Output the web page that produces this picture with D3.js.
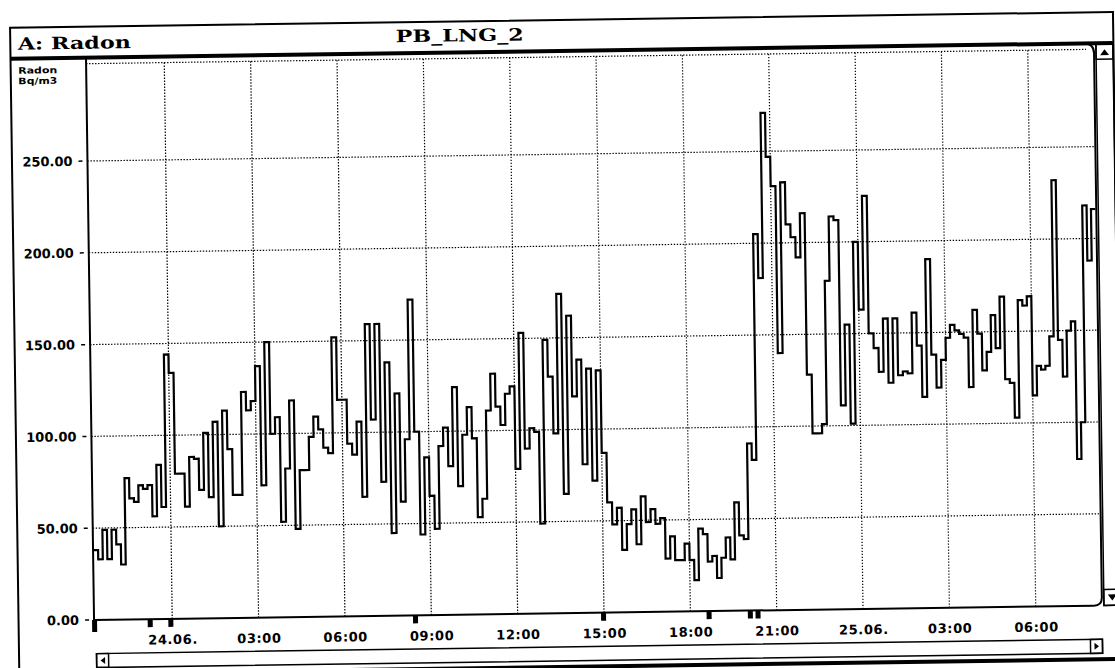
<!DOCTYPE html>
<html><head><meta charset="utf-8">
<script src="https://cdn.jsdelivr.net/npm/d3@7"></script>
<style>html,body{margin:0;padding:0;background:#fff;}svg{display:block;}</style>
</head><body>
<svg id="chart" width="1115" height="668"></svg>
<script>
// ---------------- data ----------------
const panelTitle = "A: Radon";
const stationName = "PB_LNG_2";
const unitLines = ["Radon", "Bq/m3"];
const yTickValues = [0, 50, 100, 150, 200, 250];
const xTickTimes = ["1999-06-24T00:00","1999-06-24T03:00","1999-06-24T06:00","1999-06-24T09:00","1999-06-24T12:00","1999-06-24T15:00","1999-06-24T18:00","1999-06-24T21:00","1999-06-25T00:00","1999-06-25T03:00","1999-06-25T06:00"];
const xTickLabels = ["24.06.","03:00","06:00","09:00","12:00","15:00","18:00","21:00","25.06.","03:00","06:00"];
const axisStart = "1999-06-23T21:17";
const axisEnd = "1999-06-25T08:18";
// measurement blocks between these instants (values are step readings, Bq/m3)
const blockEdges = ["1999-06-23T21:18","1999-06-24T00:00","1999-06-24T03:00","1999-06-24T06:00","1999-06-24T09:00","1999-06-24T12:00","1999-06-24T15:00","1999-06-24T18:00","1999-06-24T21:00","1999-06-25T00:00","1999-06-25T03:00","1999-06-25T06:00","1999-06-25T08:16"];
const block0 = [38,33,49,33,49,41,30,77,66,64,73,71,73,56,84,61,144];
const block1 = [134,79,79,61,88,87,70,101,66,107,50,113,92,67,67,123,113,118];
const block2 = [137,72,150,100,109,52,81,118,48,80,80,98,109,102,92,89,152,118];
const block3 = [118,94,88,106,65,159,107,159,73,138,45,121,62,96,172,100,44,86];
const block4 = [65,47,92,102,81,124,70,98,113,96,53,63,111,131,113,103,120,124];
const block5 = [79,153,90,101,99,49,149,129,98,174,65,162,118,138,81,133,72,132];
const block6 = [87,60,48,57,34,48,56,37,63,49,56,48,51,29,41,28,28,37];
const block7 = [28,17,45,42,27,30,18,29,40,28,59,41,39,91,82,205,181,271,247];
const block8 = [231,140,233,210,203,192,216,128,96,96,101,179,214,212,111,155,101,200];
const block9 = [163,225,150,142,129,158,123,158,127,129,128,161,143,115,190,138,120,135];
const block10 = [147,154,151,149,147,120,162,149,129,139,159,141,169,124,122,103,167,164,169];
const block11 = [115,131,129,131,147,232,145,125,150,155,80,100,218,188,216];
const eventMarkers = ["1999-06-23T21:18","1999-06-23T23:14","1999-06-23T23:57","1999-06-24T08:27","1999-06-24T14:59","1999-06-24T18:39","1999-06-24T20:05","1999-06-24T20:21"];

// ---------------- layout ----------------
const W = 1115, H = 668;
const L = 90, R = 1098, TOP = 57, BASE = 613.3;
const svg = d3.select("#chart");
svg.append("rect").attr("width", W).attr("height", H).attr("fill", "#fff");
const g = svg.append("g").attr("transform", "rotate(-0.82,557,334)");

const parse = s => new Date(s);
const x = d3.scaleTime().domain([parse(axisStart), parse(axisEnd)]).range([L, R]);
const y = d3.scaleLinear().domain([0, 250]).range([BASE, 154.3]);

// series
const blocks = [block0,block1,block2,block3,block4,block5,block6,block7,block8,block9,block10,block11];
const series = [];
blocks.forEach((vals, k) => {
  const t0 = +parse(blockEdges[k]), t1 = +parse(blockEdges[k+1]);
  const dt = (t1 - t0) / vals.length;
  vals.forEach((v, i) => series.push({t: new Date(t0 + i*dt), v}));
});
series.push({t: parse(blockEdges[blockEdges.length-1]), v: block11[block11.length-1]});

// outer frame
g.append("rect").attr("x", 14.5).attr("y", 20).attr("width", 1103).attr("height", 647)
  .attr("fill", "none").attr("stroke", "#000").attr("stroke-width", 2);
g.append("line").attr("x1", 14.5).attr("x2", 1117).attr("y1", 667).attr("y2", 667)
  .attr("stroke", "#000").attr("stroke-width", 4);
g.append("line").attr("x1", 14.5).attr("x2", 1117).attr("y1", 51).attr("y2", 51)
  .attr("stroke", "#000").attr("stroke-width", 4);

// header texts
g.append("text").attr("x", 22).attr("y", 42).text(panelTitle)
  .attr("font-family", "DejaVu Serif").attr("font-weight", "bold").attr("font-size", 17)
  .attr("textLength", 113).attr("lengthAdjust", "spacingAndGlyphs");
g.append("text").attr("x", 400).attr("y", 40).text(stationName)
  .attr("font-family", "DejaVu Serif").attr("font-weight", "bold").attr("font-size", 17)
  .attr("textLength", 128).attr("lengthAdjust", "spacingAndGlyphs");

// unit label
g.append("g").selectAll("text").data(unitLines).join("text")
  .attr("x", 22).attr("y", (d, i) => 66 + i*10.5).text(d => d)
  .attr("font-family", "DejaVu Sans").attr("font-weight", "bold").attr("font-size", 9)
  .attr("textLength", 39).attr("lengthAdjust", "spacingAndGlyphs");

// grid
const dots = "1.4,1.6";
const grid = g.append("g").attr("stroke", "#000").attr("stroke-width", 1.2).attr("stroke-dasharray", dots);
grid.selectAll(".h").data(yTickValues.filter(v => v > 0)).join("line")
  .attr("x1", L).attr("x2", R).attr("y1", d => y(d)).attr("y2", d => y(d));
grid.append("line").attr("x1", L).attr("x2", R - 8).attr("y1", TOP).attr("y2", TOP);
grid.selectAll(".v").data(xTickTimes).join("line")
  .attr("x1", d => x(parse(d))).attr("x2", d => x(parse(d))).attr("y1", TOP).attr("y2", BASE);

// y axis labels
const yAxis = d3.axisLeft(y).tickValues(yTickValues).tickFormat(d3.format(".2f")).tickSize(0).tickPadding(15);
const ya = g.append("g").attr("transform", `translate(${L},0)`).call(yAxis);
ya.select(".domain").remove();
ya.selectAll("text").attr("font-family", "DejaVu Sans").attr("font-weight", "bold").attr("font-size", 13).attr("fill", "#000");
g.append("g").selectAll("line").data(yTickValues).join("line")
  .attr("x1", 81).attr("x2", 85).attr("y1", d => y(d)).attr("y2", d => y(d))
  .attr("stroke", "#000").attr("stroke-width", 1.5);

// x axis labels
const xAxis = d3.axisBottom(x).tickValues(xTickTimes.map(parse))
  .tickFormat((d, i) => xTickLabels[i]).tickSize(0).tickPadding(16);
const xa = g.append("g").attr("transform", `translate(0,${BASE})`).call(xAxis);
xa.select(".domain").remove();
xa.selectAll("text").attr("font-family", "DejaVu Sans").attr("font-weight", "bold").attr("font-size", 13)
  .attr("letter-spacing", "0.6").attr("fill", "#000");

// axis lines & plot frame
g.append("line").attr("x1", L).attr("x2", L).attr("y1", 51).attr("y2", BASE + 1)
  .attr("stroke", "#000").attr("stroke-width", 2);
g.append("line").attr("x1", L).attr("x2", R - 8).attr("y1", BASE).attr("y2", BASE)
  .attr("stroke", "#000").attr("stroke-width", 2);
g.append("path").attr("d", `M${R-10},51 Q${R},51 ${R},61 L${R},${BASE-8} Q${R},${BASE} ${R-8},${BASE}`)
  .attr("fill", "none").attr("stroke", "#000").attr("stroke-width", 2);

// right scrollbar
const sb = g.append("g").attr("stroke", "#000").attr("fill", "none").attr("stroke-width", 1.5);
sb.append("rect").attr("x", 1100).attr("y", 51).attr("width", 17).attr("height", BASE - 51);
sb.append("rect").attr("x", 1100).attr("y", 51).attr("width", 17).attr("height", 16);
sb.append("rect").attr("x", 1100).attr("y", BASE - 16).attr("width", 17).attr("height", 16);
g.append("path").attr("d", "M1104,63 L1108.5,57 L1113,63 Z").attr("fill", "#000");
g.append("path").attr("d", `M1104,${BASE-11} L1108.5,${BASE-5} L1113,${BASE-11} Z`).attr("fill", "#000");

// bottom scrollbar
const hb = g.append("g").attr("stroke", "#000").attr("fill", "none").attr("stroke-width", 1.5);
hb.append("rect").attr("x", 92).attr("y", 647).attr("width", R - 92).attr("height", 14);
hb.append("rect").attr("x", 92).attr("y", 647).attr("width", 12).attr("height", 14);
hb.append("rect").attr("x", R - 12).attr("y", 647).attr("width", 12).attr("height", 14);
g.append("path").attr("d", "M96,654 L100.5,650.5 L100.5,657.5 Z").attr("fill", "#000");
g.append("path").attr("d", `M${R-3.5},654 L${R-8},650.5 L${R-8},657.5 Z`).attr("fill", "#000");

// event markers on the time axis
g.append("g").selectAll("rect").data(eventMarkers).join("rect")
  .attr("x", d => x(parse(d)) - 2.5).attr("y", BASE).attr("width", 5).attr("height", (d, i) => i === 0 ? 12 : 8)
  .attr("fill", "#000");

// data step line
const line = d3.line().x(d => x(d.t)).y(d => y(d.v)).curve(d3.curveStepAfter);
g.append("path").datum(series).attr("d", line)
  .attr("fill", "none").attr("stroke", "#000").attr("stroke-width", 2.2).attr("stroke-linejoin", "miter");
</script>
</body></html>
